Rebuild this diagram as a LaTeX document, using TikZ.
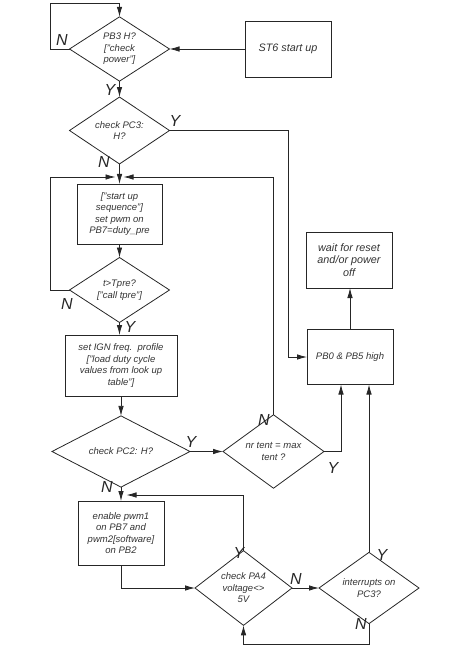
\documentclass[tikz,border=0pt]{standalone}
\usepackage{fontspec}
\setmainfont{Liberation Sans}
\usetikzlibrary{shapes.geometric,arrows.meta}
\begin{document}
\begin{tikzpicture}[x=1pt,y=-1pt,
  every node/.style={inner sep=0pt,outer sep=0pt},
  ln/.style={draw=black!85,line width=0.8pt},
  arr/.style={ln,-{Latex[length=10pt,width=5.5pt]}},
  txt/.style={align=center,text=black!80,font=\fontsize{9.5}{11.5}\selectfont\itshape},
  bigtxt/.style={align=center,text=black!80,font=\fontsize{10.8}{12.5}\selectfont\itshape},
  box/.style={ln,rectangle,minimum width=#1},
  dia/.style={ln,diamond,minimum width=#1},
  yn/.style={text=black!85,font=\fontsize{16}{16}\selectfont\itshape}]
\useasboundingbox (0,0) rectangle (454,647);
% nodes
\node[dia=100,minimum height=64,txt] (d1) at (119.5,49) {PB3 H?\\{[}"check\\power"{]}};
\node[box=86,minimum height=56,bigtxt] (st6) at (288,49) {ST6 start up};
\node[dia=100,minimum height=61,txt] (d2) at (119.5,130.5) {check PC3:\\H?};
\node[box=85,minimum height=60,txt] (b1) at (119.5,214) {{[}"start up\\sequence"{]}\\set pwm on\\PB7=duty\_pre};
\node[dia=100,minimum height=56,txt] (d3) at (119.5,290) {t>Tpre?\\{[}"call tpre"{]}};
\node[box=112,minimum height=61,txt] (b2) at (121,365.5) {set IGN freq.\ \ profile\\{[}"load duty cycle\\values from look up\\table"{]}};
\node[dia=138,minimum height=64,txt] (d4) at (121,451.5) {check PC2: H?};
\node[dia=101,minimum height=57,txt] (d5) at (273.5,451.5) {nr tent = max\\tent ?};
\node[box=86,minimum height=55,txt] (pb0) at (350,357) {PB0 \& PB5 high};
\node[box=86,minimum height=56,bigtxt] (wait) at (349,260) {wait for reset\\and/or power\\off};
\node[box=86,minimum height=64,txt] (b5) at (121,533) {enable pwm1\\on PB7 and\\pwm2{[}software{]}\\on PB2};
\node[dia=97,minimum height=58,txt] (d6) at (243.5,588) {check PA4\\voltage<>\\5V};
\node[dia=100,minimum height=58,txt] (d7) at (369,588) {interrupts on\\PC3?};
\coordinate (j1) at (119.5,177);
\coordinate (j2) at (121.5,495);
% connectors
\draw[arr] (st6.west) -- (d1.east);
\draw[arr] (d1.west) -- ++(-19,0) |- ([yshift=13pt]d1.north) -- (d1.north);
\draw[arr] (d1.south) -- (d2.north);
\draw[arr] (d2.east) -- (288,130.5) |- (pb0.west);
\draw[arr] (d2.south) -- (b1.north);
\draw[arr,shorten >=4pt] (d3.west) -- ++(-19,0) |- (j1);
\draw[arr,shorten >=4pt] (d5.north) |- (j1);
\draw[arr] (b1.south) -- (d3.north);
\draw[arr] (d3.south) -- (d3.south |- b2.north);
\draw[arr] (b2.south) -- (d4.north);
\draw[arr] (d4.east) -- (d5.west);
\draw[arr] (d5.east) -| ([xshift=-9pt]pb0.south);
\draw[arr] (pb0.north) -- (pb0.north |- wait.south);
\draw[arr] (d4.south) -- (b5.north);
\draw[arr,shorten >=5pt] (d6.north) |- (j2);
\draw[arr] (b5.south) |- (d6.west);
\draw[arr] (d6.east) -- (d7.west);
\draw[arr] (d7.north) -- (d7.north |- pb0.south);
\draw[arr] (d7.south) -- ++(0,21) -| (d6.south);
% labels
\node[yn] (l1) at (62,40) {N};
\node[yn] (l2) at (110,90) {Y};
\node[yn] (l3) at (175,121) {Y};
\node[yn] (l4) at (104,162) {N};
\node[yn] (l5) at (67,304) {N};
\node[yn] (l6) at (130,327) {Y};
\node[yn] (l7) at (191,442) {Y};
\node[yn] (l8) at (264,420) {N};
\node[yn] (l9) at (333,468) {Y};
\node[yn] (l10) at (107,487) {N};
\node[yn] (l11) at (239,553) {Y};
\node[yn] (l12) at (296,579) {N};
\node[yn] (l13) at (382,555) {Y};
\node[yn] (l14) at (361,624) {N};
\end{tikzpicture}
\end{document}
